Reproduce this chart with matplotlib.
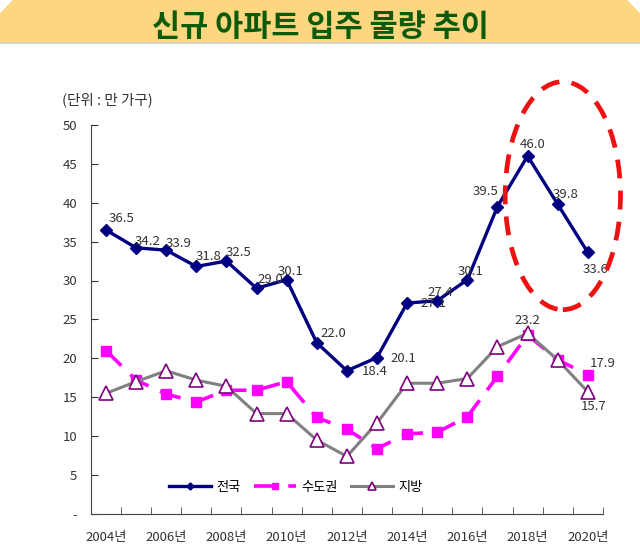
import matplotlib
matplotlib.use('Agg')
import numpy as np
from matplotlib import pyplot as plt
from matplotlib.patches import Ellipse, Polygon

plt.rcParams['font.family'] = ['Noto Sans CJK KR', 'DejaVu Sans']

years = list(range(2004, 2021))
year_labels = [f'{y}년' if y % 2 == 0 else '' for y in years]

national = [36.5, 34.2, 33.9, 31.8, 32.5, 29.0, 30.1, 22.0, 18.4, 20.1,
            27.1, 27.4, 30.1, 39.5, 46.0, 39.8, 33.6]
capital = [21.0, 17.2, 15.4, 14.4, 15.9, 15.9, 17.0, 12.4, 10.9, 8.4,
           10.3, 10.5, 12.5, 17.7, 23.0, 19.8, 17.9]
local = [15.5, 17.0, 18.4, 17.2, 16.4, 12.9, 12.9, 9.5, 7.4, 11.7,
         16.8, 16.8, 17.4, 21.5, 23.2, 19.8, 15.7]

# label centre offsets (points) for 전국 values
nat_off = [(11, 8), (8, 4.5), (9, 4.5), (9, 7.5), (9, 6), (10, 6.5), (2.5, 6),
           (12, 7), (20, -0.5), (19, -0.5), (19, -0.5), (2, 6), (2, 6),
           (-8.6, 10.8), (3.3, 8), (5.6, 6.8), (5.5, -12.5)]

fig = plt.figure(figsize=(6.4, 5.5), dpi=100)

# title banner
banner = Polygon([(0, 0.922), (0, 0.976), (0.02, 1.0), (0.98, 1.0), (1.0, 0.976), (1.0, 0.922)],
                 closed=True, transform=fig.transFigure, facecolor='#FDD680',
                 edgecolor='none', zorder=0)
fig.patches.append(banner)
fig.add_artist(plt.Line2D([0, 1], [0.921, 0.921], transform=fig.transFigure,
                          color='#D9D2C4', lw=1.5))
fig.text(0.5, 0.951, '신규 아파트 입주 물량 추이', ha='center', va='center',
         fontsize=22, fontweight='bold', color='#0B5B0B')

ax = fig.add_axes([0.142, 0.0655, 0.80, 0.7075])
x = np.arange(len(years))

ax.plot(x, capital, color='#FF00FF', lw=2.6, dashes=(6, 3.5), marker='s',
        markersize=7, markeredgecolor='#FF00FF', label='수도권', zorder=2)
ax.plot(x, local, color='#808080', lw=2.2, marker='^', markersize=10,
        markerfacecolor='white', markeredgecolor='#800080', markeredgewidth=1.2,
        label='지방', zorder=3)
ax.plot(x, national, color='#000080', lw=2.4, marker='D', markersize=6,
        label='전국', zorder=4)

lab = dict(textcoords='offset points', ha='center', va='center',
           fontsize=9.5, color='#333333', zorder=5)
for i, v in enumerate(national):
    ax.annotate(f'{v:.1f}', (i, v), xytext=nat_off[i], **lab)
ax.annotate(f'{local[14]:.1f}', (14, local[14]), xytext=(0, 9.2), **lab)
ax.annotate(f'{capital[16]:.1f}', (16, capital[16]), xytext=(10.4, 8.2), **lab)
ax.annotate(f'{local[16]:.1f}', (16, local[16]), xytext=(4.3, -10.7), **lab)

ax.add_patch(Ellipse((15.17, 40.9), 3.83, 29.3, fill=False, edgecolor='#EE1111',
                     lw=3.4, linestyle=(0, (4, 2.6)), clip_on=False, zorder=6))

ax.set_xlim(-0.5, len(years) - 0.5)
ax.set_ylim(0, 50)
ax.set_yticks(range(0, 51, 5))
ax.set_yticklabels(['-'] + [str(v) for v in range(5, 51, 5)])
ax.set_xticks(x)
ax.set_xticklabels(year_labels)
ax.set_xticks(np.arange(-0.5, len(years), 1), minor=True)
ax.tick_params(axis='x', which='major', length=0, pad=12, labelsize=9.5, colors='#333333')
ax.tick_params(axis='x', which='minor', length=5, direction='in', color='#444444')
ax.tick_params(axis='y', length=5, direction='in', labelsize=9.5, pad=10, colors='#333333')
for s in ['top', 'right']:
    ax.spines[s].set_visible(False)
for s in ['left', 'bottom']:
    ax.spines[s].set_color('#444444')

h, l = ax.get_legend_handles_labels()
order = [2, 0, 1]
ax.legend([h[i] for i in order], [l[i] for i in order], ncol=3, frameon=False,
          loc='center', bbox_to_anchor=(0.40, 0.069), fontsize=9.5, handlelength=3.2,
          handletextpad=0.4, markerscale=0.6, columnspacing=1.0)

fig.text(0.097, 0.818, '(단위 : 만 가구)', fontsize=10.5, color='#333333', va='center')

fig.savefig('out.png', dpi=100)
